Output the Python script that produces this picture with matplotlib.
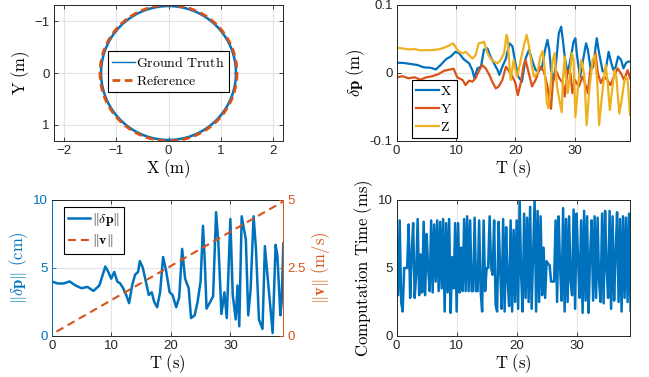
import numpy as np
import matplotlib
matplotlib.use("Agg")
import matplotlib.pyplot as plt

plt.rcParams['font.family'] = ['Liberation Sans', 'DejaVu Sans']
plt.rcParams['mathtext.fontset'] = 'cm'

BLUE = '#0072BD'
ORANGE = '#D95319'
YELLOW = '#EDB120'
GRIDC = '#e3e3e3'
SPINEC = '#262626'

# ---------------- data ----------------
# trajectory (circle) parameters
gt_radius = 1.29
ref_radius = 1.31
circle_center = (0.0, 0.0)

# position error components (cm -> m), time in s
t_x = [0, 1.2, 2.4, 3.5, 4.6, 5.7, 6.6, 7.4, 8.3, 9.1, 9.9, 10.5, 11.3, 12.2, 12.75, 13.1, 13.6, 14.2,
       14.7, 15.3, 15.8, 16.4, 17.0, 17.3, 17.8, 18.4, 19.0, 19.5, 20.0, 20.5, 21.1, 21.7, 22.3, 22.8,
       23.4, 23.9, 24.5, 25.0, 25.4, 25.7, 26.0, 26.4, 26.8, 27.3, 27.7, 28.0, 28.3, 28.8, 29.3, 29.8,
       30.1, 30.4, 30.9, 31.5, 31.9, 32.2, 32.7, 33.1, 33.7, 34.1, 34.7, 35.2, 35.7, 36.1, 36.5, 36.9,
       37.3, 37.8, 38.2, 38.6, 38.9, 39.3]
err_x = [1.5, 1.45, 1.3, 1.15, 0.8, 0.75, 0.5, 1.15, 2.0, 2.4, 3.1, 2.9, 2.0, 1.4, 0.4, -0.8, 0.66, 0.9,
         3.4, 3.6, 2.4, 1.4, 0.4, -0.3, 0.9, 2.1, 4.35, 3.9, 1.4, -0.6, -1.3, 2.1, 3.4, 1.9,
         0.4, 0.2, 0.9, 3.4, 4.85, 3.4, 0.4, -1.05, 1.0, 5.8, 6.8, 4.8, 2.4, -0.1, 2.1, 4.6,
         5.1, 2.4, -0.6, 2.4, 4.35, 3.4, 0.4, 0.9, 5.1, 2.9, 0.2, 0.4, 3.1, 1.6, 0.4, 0.9,
         2.4, 1.9, 0.66, 1.4, 1.65, 1.65]

t_y = [0, 1, 2, 3, 4, 5, 6, 7, 8, 9, 9.6, 10.2, 11.1, 11.6, 12.2, 12.75, 13.3, 13.8, 14.4, 15.0, 15.6,
       16.1, 16.7, 17.2, 17.8, 18.4, 18.8, 19.5, 20.0, 20.4, 20.9, 21.4, 21.7, 22.3, 22.8, 23.4, 23.9,
       24.2, 24.8, 25.4, 25.7, 26.0, 26.3, 26.8, 27.4, 28.0, 28.3, 28.8, 29.3, 29.6, 30.0, 30.3, 30.7,
       31.3, 31.9, 32.2, 32.6, 33.0, 33.5, 33.9, 34.4, 34.9, 35.5, 36.0, 36.6, 37.2, 37.8, 38.3, 38.9, 39.3]
err_y = [-0.66, -0.5, -0.8, -0.66, -1.0, -0.66, -0.5, -0.2, 0.3, 0.5, 0.6, -0.66, -1.05, -1.8, -1.15,
         -1.3, -0.8, 0.2, 1.15, 0.66, -0.3, -1.3, -2.3, -2.0, -1.05, 0.9, 0.4, -0.56, -1.5, -3.3,
         -1.5, 1.15, 1.9, -0.2, -2.0, -1.05, 0.2, 0.9, 0.2, -2.0, -4.0, -5.3, -1.5, 0.4, -0.8,
         -1.5, -3.5, 0.4, -0.1, -3.0, -1.0, -1.5, -2.0, -0.56, -2.0, -3.0, 0.4, 0.9, 2.9, -0.1,
         -1.5, -0.56, -1.05, -1.8, -0.56, 0.66, -0.1, -1.05, 0.4, -0.8]

t_z = [0, 1, 2, 3, 4, 5, 6, 7, 8, 9, 9.5, 10, 10.5, 11.1, 11.6, 12.2, 12.75, 13.3, 13.8, 14.4, 14.7,
       15.3, 15.8, 16.4, 17.0, 17.5, 18.1, 18.5, 18.7, 19.0, 19.2, 19.7, 20.0, 20.3, 20.9, 21.4, 21.9,
       22.3, 22.8, 23.1, 23.7, 24.2, 24.6, 24.9, 25.3, 25.6, 25.95, 26.3, 26.6, 27.0, 27.4, 27.8,
       28.0, 28.3, 28.5, 28.8, 29.1, 29.5, 29.8, 30.1, 30.7, 31.1, 31.6, 32.0, 32.4, 33.0, 33.4,
       33.8, 34.1, 34.5, 35.0, 35.2, 35.5, 35.9, 36.3, 36.7, 37.0, 37.5, 37.9, 38.3, 38.6, 38.9, 39.3]
err_z = [3.7, 3.6, 3.45, 3.5, 3.3, 3.35, 3.35, 3.45, 3.7, 4.1, 4.35, 3.7, 3.1, 2.9, 3.1, 2.6, 2.1, 2.6,
         4.35, 4.45, 4.6, 2.9, 2.1, 1.65, 1.4, 1.9, 2.9, 5.6, 5.0, 0.9, -1.05, 1.9, 0.5, -0.56, 1.9,
         3.9, 5.6, 3.9, 0.9, -0.56, -0.1, 2.4, 3.2, 0.9, -4.5, -5.2, -1.5, 1.9, 2.9, -2.0, -4.0,
         -5.8, -1.0, 2.4, -0.56, -3.0, -1.0, 2.9, 1.9, -6.5, -0.6, 1.9, -0.3, -7.7, -3.0, 1.9, 2.6,
         -1.5, -7.7, -4.0, -0.1, 1.15, -1.0, -5.5, -2.5, 0.4, -0.56, -6.0, -4.0, -1.5, -0.6, -1.0, -6.2]

# norm of position error (cm)
t_n = [0, 1, 2, 3, 4, 5, 6, 7, 8, 9, 9.5, 10, 10.5, 11, 11.5, 12, 12.5, 13, 13.5, 14, 14.5, 14.8,
       15.3, 15.8, 16.3, 16.8, 17.2, 17.7, 18.2, 18.7, 19.2, 19.8, 20.3, 20.9, 21.4, 21.9, 22.4,
       23.0, 23.4, 24.0, 24.5, 25.0, 25.4, 25.7, 26.0, 26.5, 27.1, 27.6, 28.0, 28.5, 29.0, 29.4,
       30.0, 30.4, 30.9, 31.2, 31.5, 31.9, 32.6, 33.0, 33.4, 33.9, 34.3, 34.8, 35.4, 35.8, 36.2,
       36.7, 37.1, 37.6, 37.9, 38.4, 38.6, 38.9]
err_norm = [4.0, 3.85, 3.85, 4.0, 3.7, 3.5, 3.6, 3.3, 3.7, 5.1, 4.7, 4.2, 4.7, 4.0, 3.85, 3.5, 3.0,
            2.4, 3.7, 4.5, 4.7, 5.5, 5.0, 4.0, 3.0, 3.2, 2.5, 2.1, 3.2, 5.8, 4.8, 3.2, 3.0, 2.1,
            2.8, 6.4, 4.2, 3.5, 1.3, 1.5, 2.5, 4.0, 8.1, 5.5, 2.0, 2.4, 2.9, 9.1, 6.7, 1.6, 3.2,
            1.3, 8.6, 3.0, 1.2, 3.7, 0.7, 8.8, 7.1, 1.5, 3.4, 8.8, 6.4, 1.2, 0.5, 6.6, 4.6, 2.2,
            0.2, 6.7, 5.9, 1.5, 2.4, 6.8]

# speed (m/s)
t_v = [0.8, 38.9]
speed = [0.15, 4.95]

# computation time (ms), sampled every 0.25 s
comp_step = 0.25
comp_time = [7.5, 3.0, 8.5, 2.5, 1.8, 5.0, 5.0, 5.0,
             8.2, 2.8, 6.0, 8.3, 2.8, 4.5, 8.6, 3.0,
             6.0, 3.2, 8.4, 3.0, 7.5, 5.0, 3.3, 8.5,
             3.2, 8.2, 4.0, 8.5, 3.3, 8.4, 3.5, 8.6,
             1.8, 8.3, 3.2, 8.6, 1.7, 5.8, 3.5, 8.3,
             1.8, 8.3, 3.2, 6.5, 3.3, 8.6, 3.3, 8.8,
             3.3, 8.5, 3.3, 3.3, 8.7, 3.3, 3.3, 8.5,
             3.3, 1.8, 8.5, 3.3, 5.0, 5.0, 8.8, 5.0,
             4.5, 8.5, 2.3, 1.8, 8.4, 5.0, 2.0, 8.6,
             1.8, 8.0, 4.0, 2.2, 8.5, 1.8, 7.8, 2.5,
             8.5, 2.0, 10.0, 4.5, 1.8, 9.0, 2.8, 8.7,
             2.5, 9.5, 2.0, 6.0, 10.0, 1.8, 9.2, 2.5,
             8.8, 3.0, 6.5, 2.8, 5.5, 5.3, 5.2, 4.0,
             4.0, 4.0, 8.5, 2.5, 8.8, 5.0, 2.6, 9.4,
             1.8, 8.6, 2.5, 8.8, 4.0, 3.0, 9.3, 2.0,
             9.0, 5.5, 2.8, 8.5, 1.7, 9.2, 2.6, 8.8,
             1.7, 6.0, 8.5, 2.6, 8.8, 2.8, 8.7, 4.0,
             2.5, 9.0, 2.4, 9.2, 5.0, 2.8, 9.2, 2.0,
             8.8, 2.6, 6.0, 9.1, 2.5, 8.6, 1.8, 8.8,
             2.8, 8.7, 2.5, 9.0, 1.8, 8.5, 3.5, 6.0]
t_comp = np.arange(len(comp_time)) * comp_step

# ---------------- figure ----------------
fig = plt.figure(figsize=(6.49, 3.77), dpi=100)

LABEL_FS = 12
TICK_FS = 9.5
LEG_FS = 10


def style_axes(ax, right=True, top=True):
    ax.tick_params(direction='in', length=3, width=0.6, labelsize=TICK_FS,
                   top=top, right=right, colors=SPINEC, pad=3)
    for s in ax.spines.values():
        s.set_color(SPINEC)
        s.set_linewidth(0.7)
    ax.grid(True, color=GRIDC, linewidth=0.8)
    ax.set_axisbelow(True)


LEG_KW = dict(fontsize=LEG_FS, fancybox=False, framealpha=1, edgecolor='black',
              handlelength=1.6, handletextpad=0.1, borderpad=0.3, labelspacing=0.3,
              borderaxespad=0)

# --- top-left: trajectory ---
ax1 = fig.add_axes([0.0832, 0.626, 0.3529, 0.3607])
theta = np.linspace(0, 2 * np.pi, 400)
ax1.plot(circle_center[0] + gt_radius * np.cos(theta), circle_center[1] + gt_radius * np.sin(theta),
         color=BLUE, lw=1.8, label=r'$\mathrm{Ground\ Truth}$')
ax1.plot(circle_center[0] + ref_radius * np.cos(theta), circle_center[1] + ref_radius * np.sin(theta),
         color=ORANGE, lw=2.0, ls=(0, (2.8, 1.6)), label=r'$\mathrm{Reference}$')
ax1.set_xlim(-2.19, 2.19)
ax1.set_ylim(1.31, -1.31)
ax1.set_xticks([-2, -1, 0, 1, 2])
ax1.set_yticks([-1, 0, 1])
style_axes(ax1)
ax1.set_xlabel(r'$\mathrm{X\ (m)}$', fontsize=LABEL_FS, labelpad=0)
ax1.set_ylabel(r'$\mathrm{Y\ (m)}$', fontsize=LABEL_FS, labelpad=2)
lg1 = ax1.legend(loc='center', bbox_to_anchor=(0.50, 0.51), **LEG_KW)
lg1.get_frame().set_linewidth(0.8)
lg1.get_lines()[0].set_linewidth(1.0)

# --- top-right: error components ---
ax2 = fig.add_axes([0.6112, 0.6268, 0.3595, 0.36])
ax2.plot(t_x, np.array(err_x) / 100, color=BLUE, lw=1.6, label=r'$\mathrm{X}$')
ax2.plot(t_y, np.array(err_y) / 100, color=ORANGE, lw=1.6, label=r'$\mathrm{Y}$')
ax2.plot(t_z, np.array(err_z) / 100, color=YELLOW, lw=1.6, label=r'$\mathrm{Z}$')
ax2.set_xlim(0, 39.3)
ax2.set_ylim(-0.1, 0.1)
ax2.set_xticks([0, 10, 20, 30])
ax2.set_yticks([-0.1, 0, 0.1])
ax2.set_yticklabels(['-0.1', '0', '0.1'])
style_axes(ax2)
ax2.set_xlabel(r'$\mathrm{T\ (s)}$', fontsize=LABEL_FS, labelpad=0)
ax2.set_ylabel(r'$\delta\mathbf{p}\ \mathrm{(m)}$', fontsize=LABEL_FS, labelpad=2)
lg2 = ax2.legend(loc='lower left', bbox_to_anchor=(0.067, 0.018), **LEG_KW)
lg2.get_frame().set_linewidth(0.8)

# --- bottom-left: error norm and speed ---
ax3 = fig.add_axes([0.0797, 0.1095, 0.3569, 0.36])
l1, = ax3.plot(t_n, err_norm, color=BLUE, lw=1.8, label=r'$\|\delta\mathbf{p}\|$')
ax3.set_xlim(0, 38.9)
ax3.set_ylim(0, 10)
ax3.set_xticks([0, 10, 20, 30])
ax3.set_yticks([0, 5, 10])
style_axes(ax3, right=False)
ax3.tick_params(axis='y', colors=BLUE)
ax3.spines['left'].set_color(BLUE)
ax3.set_xlabel(r'$\mathrm{T\ (s)}$', fontsize=LABEL_FS, labelpad=0)
ax3.set_ylabel(r'$\|\delta\mathbf{p}\|\ \mathrm{(cm)}$', fontsize=LABEL_FS, color=BLUE, labelpad=2)
ax3b = ax3.twinx()
l2, = ax3b.plot(t_v, speed, color=ORANGE, lw=1.5, ls=(0, (3.8, 2.4)), label=r'$\|\mathbf{v}\|$')
ax3b.set_ylim(0, 5)
ax3b.set_yticks([0, 2.5, 5])
ax3b.set_yticklabels(['0', '2.5', '5'])
ax3b.tick_params(direction='in', length=3, width=0.6, labelsize=TICK_FS, colors=ORANGE, pad=3)
for s in ax3b.spines.values():
    s.set_visible(False)
ax3b.spines['right'].set_visible(True)
ax3b.spines['right'].set_color(ORANGE)
ax3b.spines['right'].set_linewidth(0.7)
ax3.spines['right'].set_visible(False)
ax3b.set_ylabel(r'$\|\mathbf{v}\|\ \mathrm{(m/s)}$', fontsize=LABEL_FS, color=ORANGE, labelpad=2)
lg3 = ax3b.legend(handles=[l1, l2], loc='upper left', bbox_to_anchor=(0.053, 0.948), **LEG_KW)
lg3.get_frame().set_linewidth(0.8)

# --- bottom-right: computation time ---
ax4 = fig.add_axes([0.6112, 0.1088, 0.3595, 0.3607])
ax4.plot(t_comp, comp_time, color=BLUE, lw=1.8)
ax4.set_xlim(0, 38.9)
ax4.set_ylim(0, 10)
ax4.set_xticks([0, 10, 20, 30])
ax4.set_yticks([0, 5, 10])
style_axes(ax4)
ax4.set_xlabel(r'$\mathrm{T\ (s)}$', fontsize=LABEL_FS, labelpad=0)
ax4.set_ylabel(r'$\mathrm{Computation\ Time\ (ms)}$', fontsize=LABEL_FS, labelpad=2)

fig.savefig('out.png', dpi=100)
